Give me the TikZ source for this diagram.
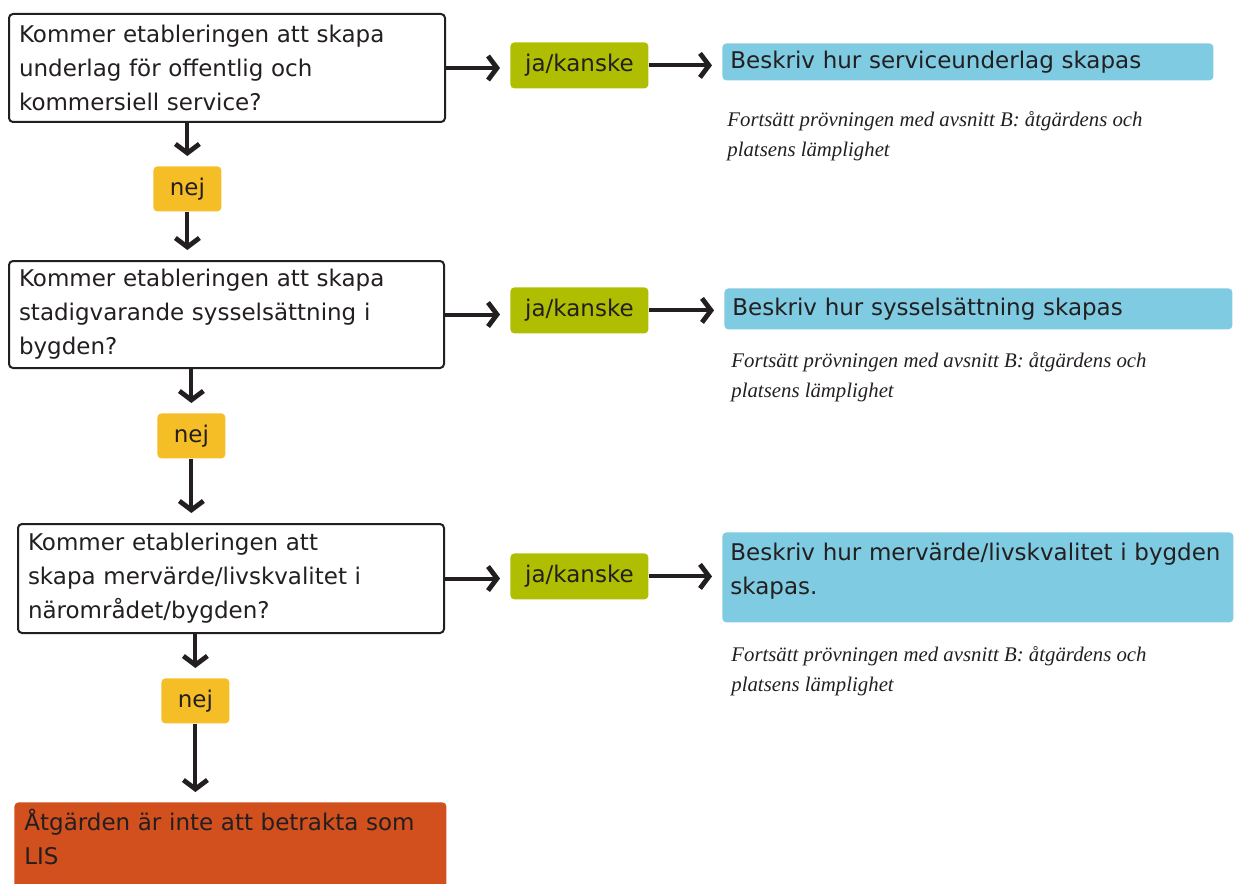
\documentclass[tikz,border=0pt]{standalone}
\usepackage{fontspec}
\setmainfont{DejaVu Sans}
\newfontfamily\notefont{Liberation Serif}
\usetikzlibrary{arrows.meta}
\definecolor{jagron}{RGB}{175,190,0}
\definecolor{nejgul}{RGB}{245,189,38}
\definecolor{beskbla}{RGB}{127,203,226}
\definecolor{lisrod}{RGB}{210,79,30}
\definecolor{mork}{RGB}{35,31,32}

\begin{document}
\begin{tikzpicture}[x=0.5pt,y=-0.5pt,
  every node/.style={text=mork,font=\fontsize{11.5}{17}\selectfont},
  fraga/.style 2 args={draw=mork,line width=1pt,fill=white,rounded corners=2pt,anchor=north west,
    align=left,inner xsep=5pt,inner ysep=0pt,text width=#1,minimum height=#2},
  jabox/.style={fill=jagron,rounded corners=2pt,anchor=north west,minimum width=69pt,minimum height=23pt,inner sep=0pt},
  nejbox/.style={fill=nejgul,rounded corners=2pt,anchor=north west,minimum width=34pt,minimum height=22.5pt,inner sep=0pt},
  beskbox/.style 2 args={fill=beskbla,rounded corners=2pt,anchor=north west,align=left,
    inner xsep=4pt,inner ysep=0pt,text width=#1,minimum height=#2},
  notetext/.style={anchor=north west,align=left,inner sep=0pt,font=\notefont\itshape\fontsize{10.4}{15}\selectfont},
  pil/.style={-{Straight Barb[length=4.5pt,width=12pt,line width=2.4pt]},line width=2pt,draw=mork,shorten >=5pt}]
\useasboundingbox (0,0) rectangle (1241,883);

% frågorna
\node[fraga={208pt}{54pt}] (q1) at (8,13) {Kommer etableringen att skapa\\underlag för offentlig och\\kommersiell service?};
\node[fraga={207.5pt}{53.5pt}] (q2) at (8,260) {Kommer etableringen att skapa\\stadigvarande sysselsättning i\\bygden?};
\node[fraga={203pt}{54.5pt}] (q3) at (17,523) {Kommer etableringen att\\skapa mervärde/livskvalitet i\\närområdet/bygden?};

% ja/kanske
\node[jabox] (ja1) at (510,42) {ja/kanske};
\node[jabox] (ja2) at (510,287) {ja/kanske};
\node[jabox] (ja3) at (510,553) {ja/kanske};

% beskriv
\node[beskbox={237.5pt}{18.5pt}] (besk1) at (722,43) {Beskriv hur serviceunderlag skapas};
\node[beskbox={246pt}{20.5pt}] (besk2) at (724,288) {Beskriv hur sysselsättning skapas};
\node[beskbox={247.5pt}{45pt},inner ysep=3.5pt,text height=10.5pt,text depth=27pt] (besk3) at (722,532) {Beskriv hur mervärde/livskvalitet i bygden\\skapas.};

\node[notetext] (fort1) at (727,111) {Fortsätt prövningen med avsnitt B: åtgärdens och\\platsens lämplighet};
\node[notetext] (fort2) at (731,352) {Fortsätt prövningen med avsnitt B: åtgärdens och\\platsens lämplighet};
\node[notetext] (fort3) at (731,646) {Fortsätt prövningen med avsnitt B: åtgärdens och\\platsens lämplighet};

% nej
\node[nejbox] (nej1) at (153,166) {nej};
\node[nejbox] (nej2) at (157,413) {nej};
\node[nejbox] (nej3) at (161,678) {nej};

\node[fill=lisrod,rounded corners=2pt,anchor=north west,align=left,inner xsep=5pt,inner ysep=3.5pt,
  text width=206pt,text height=10.5pt,text depth=35pt] (lis) at (14,802) {Åtgärden är inte att betrakta som\\LIS};

% pilar
\draw[pil] (q1.east) -- (q1.east -| ja1.west);
\draw[pil] (ja1.east) -- (ja1.east -| besk1.west);
\draw[pil] (q2.east) -- (q2.east -| ja2.west);
\draw[pil] (ja2.east) -- (ja2.east -| besk2.west);
\draw[pil] (q3.east) -- (q3.east -| ja3.west);
\draw[pil] (ja3.east) -- (ja3.east -| besk3.west);
\draw[pil] (q1.south -| nej1.north) -- (nej1.north);
\draw[pil] (nej1.south) -- (nej1.south |- q2.north);
\draw[pil] (q2.south -| nej2.north) -- (nej2.north);
\draw[pil] (nej2.south) -- (nej2.south |- q3.north);
\draw[pil] (q3.south -| nej3.north) -- (nej3.north);
\draw[pil] (nej3.south) -- (nej3.south |- lis.north);
\end{tikzpicture}
\end{document}
